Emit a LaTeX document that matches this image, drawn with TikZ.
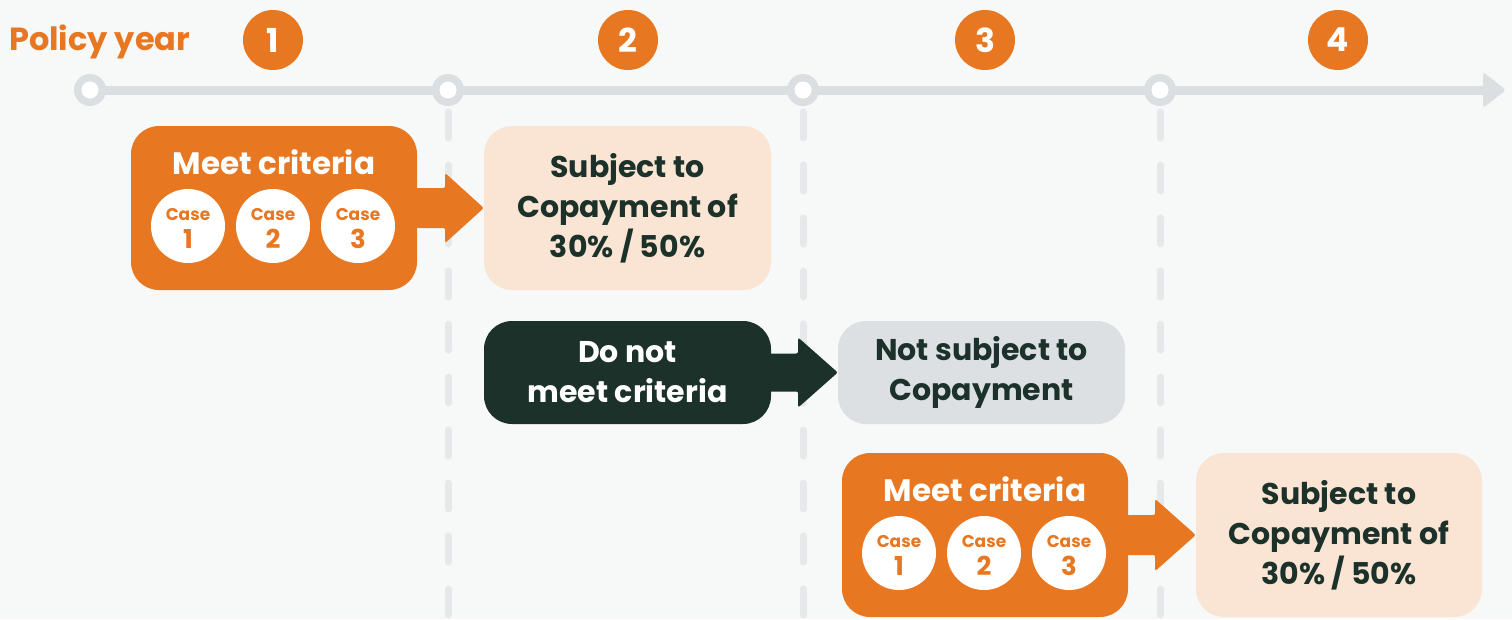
\documentclass[tikz,border=0pt]{standalone}
\usepackage{fontspec}
\setmainfont{Poppins}
\usetikzlibrary{calc}
\definecolor{org}{HTML}{E87722}
\definecolor{peach}{HTML}{FAE4D4}
\definecolor{dkgreen}{HTML}{1B3129}
\definecolor{lgray}{HTML}{DDE0E3}
\definecolor{tline}{HTML}{DCDFE2}
\definecolor{dline}{HTML}{E6E8EA}
\definecolor{bgc}{HTML}{F7F8F8}
\tikzset{
  card/.style={rounded corners=28pt, minimum width=287pt, inner sep=0pt, align=center, font=\fontsize{30}{40}\selectfont\bfseries},
  tallcard/.style={card, minimum height=164pt},
  shortcard/.style={card, minimum height=103pt},
  yearnum/.style={circle, fill=org, minimum size=60pt, inner sep=0pt, text=white, font=\fontsize{33}{33}\selectfont\bfseries},
  casec/.style={circle, fill=white, minimum size=74pt, inner sep=0pt},
  casetxt/.style={text=org, font=\fontsize{17}{17}\selectfont\bfseries, inner sep=0pt},
  casenum/.style={text=org, font=\fontsize{26}{26}\selectfont\bfseries, inner sep=0pt},
  tick/.style={circle, fill=tline, minimum size=32pt, inner sep=0pt, path picture={\fill[white] (path picture bounding box.center) circle (8.5pt);}},
  vdash/.style={draw=dline, line width=7pt, line cap=round, dash pattern=on 26pt off 27pt},
  title/.style={text=white, font=\fontsize{31}{31}\selectfont\bfseries, inner sep=0pt},
}
\begin{document}
\begin{tikzpicture}[x=1pt,y=-1pt]
\fill[bgc] (0,0) rectangle (1512,619);
\useasboundingbox (0,0) rectangle (1512,619);

% timeline
\node[text=org, font=\fontsize{32}{32}\selectfont\bfseries, anchor=west, inner sep=0pt] (py) at (9,42) {Policy year};
\coordinate (tl0) at (90,90);
\coordinate (tlend) at (1484,90);
\draw[tline, line width=9pt] (tl0) -- (tlend);
\fill[tline, rounded corners=3pt] (1483,72) -- (1506,90) -- (1483,108) -- cycle;
\foreach \x/\n in {448/a,803/b,1160/c}{
  \draw[vdash] (\x,112) -- (\x,640);
}
\foreach \x/\n in {90/t0,448/t1,803/t2,1160/t3}{
  \node[tick] (\n) at (\x,90) {};
}
\node[yearnum] (y1) at (273,40) {1};
\node[yearnum] (y2) at (628,40) {2};
\node[yearnum] (y3) at (985,40) {3};
\node[yearnum] (y4) at (1338,40) {4};

% row 1
\node[tallcard, fill=org, minimum width=286pt] (m1) at (274,208) {};
\node[title] (m1t) at (274,162) {Meet criteria};
\foreach \i/\x in {1/188,2/273,3/358}{
  \node[casec] (c1\i) at (\x,226) {};
  \node[casetxt] at (\x,215) {Case};
  \node[casenum] at (\x,239) {\i};
}
\node[tallcard, fill=peach, text=dkgreen] (s1) at (627.5,208) {Subject to\\Copayment of\\30\% / 50\%};
\fill[org, rounded corners=2pt] ($(m1.east)+(-5,-20)$) -- ($(m1.east)+(28,-20)$) -- ($(m1.east)+(28,-35)$) -- (s1.west) -- ($(m1.east)+(28,35)$) -- ($(m1.east)+(28,20)$) -- ($(m1.east)+(-5,20)$) -- cycle;

% row 2
\node[shortcard, fill=dkgreen, text=white] (d1) at (627.5,372.5) {Do not\\meet criteria};
\node[shortcard, fill=lgray, text=dkgreen] (n1) at (981.5,372.5) {Not subject to\\Copayment};
\fill[dkgreen, rounded corners=2pt] ($(d1.east)+(-5,-19)$) -- ($(d1.east)+(27,-19)$) -- ($(d1.east)+(27,-35)$) -- (n1.west) -- ($(d1.east)+(27,35)$) -- ($(d1.east)+(27,19)$) -- ($(d1.east)+(-5,19)$) -- cycle;

% row 3
\node[tallcard, fill=org, minimum width=286pt] (m2) at (985,535) {};
\node[title] (m2t) at (985,489) {Meet criteria};
\foreach \i/\x in {1/899,2/984,3/1069}{
  \node[casec] (c2\i) at (\x,553) {};
  \node[casetxt] at (\x,542) {Case};
  \node[casenum] at (\x,566) {\i};
}
\node[tallcard, fill=peach, text=dkgreen, minimum width=286pt] (s2) at (1339,535) {Subject to\\Copayment of\\30\% / 50\%};
\fill[org, rounded corners=2pt] ($(m2.east)+(-5,-20)$) -- ($(m2.east)+(27,-20)$) -- ($(m2.east)+(27,-36)$) -- (s2.west) -- ($(m2.east)+(27,36)$) -- ($(m2.east)+(27,20)$) -- ($(m2.east)+(-5,20)$) -- cycle;
\end{tikzpicture}
\end{document}
